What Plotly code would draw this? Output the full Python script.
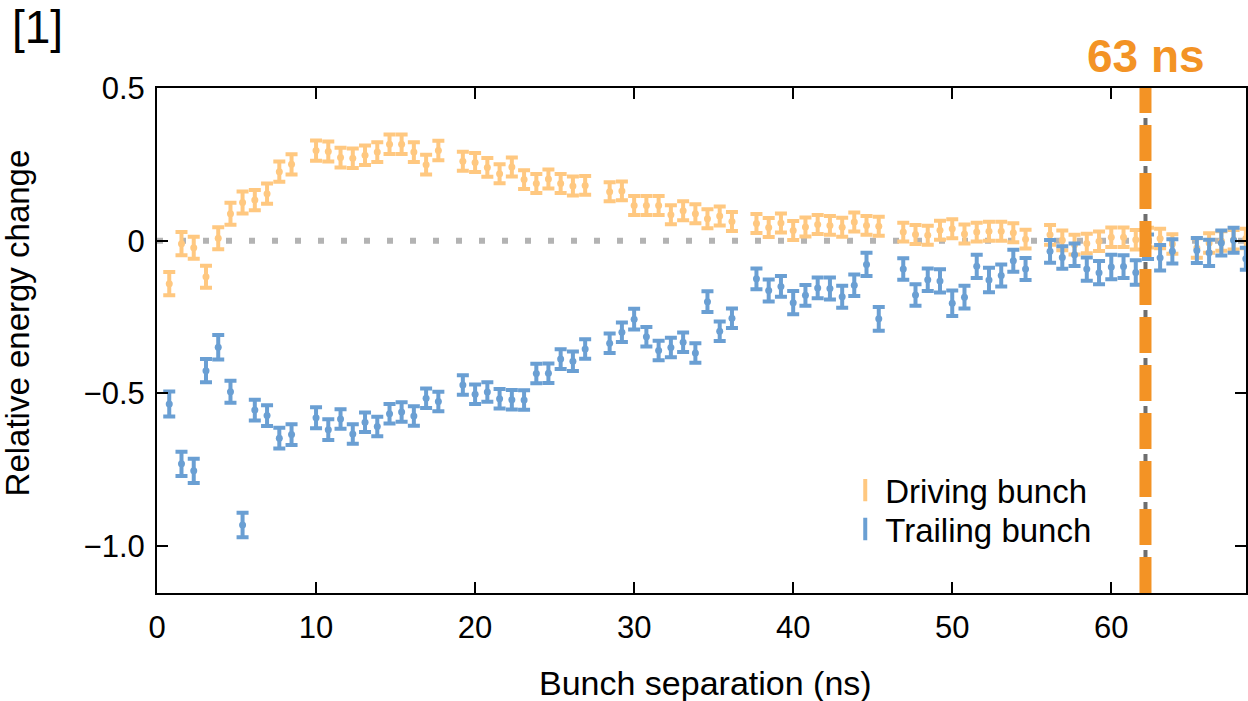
import plotly.graph_objects as go

# Bunch separation (ns) of each measured pair
separation_ns = [
    0.77, 1.54, 2.31, 3.08, 3.85, 4.62, 5.38, 6.15, 6.92, 7.69, 8.46,
    10.00, 10.77, 11.54, 12.31, 13.08, 13.85, 14.62, 15.38, 16.15, 16.92, 17.69,
    19.23, 20.00, 20.77, 21.54, 22.31, 23.08, 23.85, 24.61, 25.38, 26.15, 26.92,
    28.46, 29.23, 30.00, 30.77, 31.54, 32.31, 33.08, 33.85, 34.61, 35.38, 36.15,
    37.69, 38.46, 39.23, 40.00, 40.77, 41.54, 42.31, 43.08, 43.84, 44.61, 45.38,
    46.92, 47.69, 48.46, 49.23, 50.00, 50.77, 51.54, 52.31, 53.08, 53.84, 54.61,
    56.15, 56.92, 57.69, 58.46, 59.23, 60.00, 60.77, 61.54, 62.31, 63.07, 63.84,
    65.38, 66.15, 66.92, 67.69, 68.46,
]

# Relative energy change of the driving bunch
driving = [
    -0.141, -0.010, -0.023, -0.118, 0.008, 0.088, 0.125, 0.133, 0.154, 0.226, 0.250,
    0.295, 0.292, 0.272, 0.270, 0.280, 0.290, 0.316, 0.316, 0.290, 0.249, 0.295,
    0.260, 0.256, 0.240, 0.219, 0.241, 0.200, 0.187, 0.202, 0.187, 0.179, 0.181,
    0.160, 0.163, 0.115, 0.115, 0.115, 0.085, 0.098, 0.088, 0.072, 0.081, 0.063,
    0.056, 0.043, 0.058, 0.033, 0.045, 0.053, 0.050, 0.044, 0.061, 0.050, 0.047,
    0.028, 0.020, 0.018, 0.034, 0.039, 0.022, 0.028, 0.031, 0.031, 0.026, 0.005,
    0.019, 0.001, -0.013, -0.009, -0.002, 0.011, 0.011, 0.003, 0.010, 0.007, -0.011,
    -0.024, -0.008, -0.001, 0.003, 0.007,
]
driving_err = [
    0.038, 0.038, 0.036, 0.036, 0.036, 0.036, 0.036, 0.033, 0.033, 0.033, 0.033,
    0.033, 0.033, 0.032, 0.032, 0.032, 0.032, 0.032, 0.032, 0.032, 0.032, 0.032,
    0.031, 0.031, 0.031, 0.031, 0.031, 0.031, 0.031, 0.031, 0.031, 0.031, 0.031,
    0.031, 0.031, 0.031, 0.031, 0.031, 0.031, 0.031, 0.031, 0.031, 0.031, 0.031,
    0.031, 0.031, 0.031, 0.031, 0.031, 0.031, 0.031, 0.031, 0.031, 0.031, 0.031,
    0.031, 0.031, 0.031, 0.031, 0.031, 0.031, 0.031, 0.031, 0.031, 0.031, 0.031,
    0.032, 0.032, 0.032, 0.032, 0.032, 0.032, 0.032, 0.032, 0.032, 0.032, 0.032,
    0.032, 0.032, 0.032, 0.032, 0.032,
]

# Relative energy change of the trailing bunch
trailing = [
    -0.535, -0.731, -0.754, -0.426, -0.349, -0.495, -0.931, -0.555, -0.573, -0.647, -0.635,
    -0.580, -0.619, -0.584, -0.633, -0.595, -0.609, -0.567, -0.561, -0.574, -0.516, -0.527,
    -0.473, -0.503, -0.496, -0.518, -0.521, -0.522, -0.435, -0.434, -0.388, -0.395, -0.355,
    -0.336, -0.300, -0.257, -0.315, -0.360, -0.350, -0.333, -0.368, -0.200, -0.297, -0.254,
    -0.125, -0.163, -0.150, -0.203, -0.179, -0.155, -0.157, -0.184, -0.146, -0.078, -0.256,
    -0.093, -0.178, -0.128, -0.132, -0.205, -0.185, -0.084, -0.129, -0.114, -0.066, -0.093,
    -0.035, -0.055, -0.046, -0.093, -0.105, -0.086, -0.085, -0.104, -0.020, -0.056, -0.035,
    -0.032, -0.040, -0.008, 0.001, -0.059,
]
trailing_err = [
    0.041, 0.040, 0.040, 0.038, 0.040, 0.036, 0.040, 0.034, 0.034, 0.034, 0.034,
    0.034, 0.034, 0.032, 0.032, 0.032, 0.032, 0.032, 0.032, 0.032, 0.032, 0.032,
    0.032, 0.032, 0.032, 0.032, 0.032, 0.032, 0.032, 0.032, 0.032, 0.032, 0.032,
    0.032, 0.032, 0.034, 0.032, 0.032, 0.032, 0.032, 0.032, 0.034, 0.032, 0.032,
    0.034, 0.036, 0.034, 0.038, 0.034, 0.034, 0.036, 0.036, 0.035, 0.038, 0.039,
    0.035, 0.035, 0.037, 0.038, 0.042, 0.037, 0.038, 0.040, 0.036, 0.036, 0.036,
    0.037, 0.037, 0.037, 0.038, 0.038, 0.040, 0.037, 0.040, 0.040, 0.042, 0.040,
    0.041, 0.043, 0.041, 0.041, 0.036,
]

x_ticks = [0, 10, 20, 30, 40, 50, 60]
y_ticks = [0.5, 0.0, -0.5, -1.0]
y_tick_text = ["0.5", "0", "\u22120.5", "\u22121.0"]

marker_line_ns = 62.15
X_RANGE = [0, 68.47]
Y_RANGE = [-1.154, 0.5]

ORANGE = "#FFC880"
BLUE = "#6A9FD3"
ACCENT = "#F39325"
FONT = "Liberation Sans, Arial, Helvetica, sans-serif"

fig = go.Figure()

series = [
    ("Driving bunch", driving, driving_err, ORANGE, "legend"),
    ("Trailing bunch", trailing, trailing_err, BLUE, "legend2"),
]
for name, values, errs, color, legend_id in series:
    fig.add_trace(go.Scatter(
        x=separation_ns, y=values, mode="markers", showlegend=False,
        marker=dict(color=color, size=7, symbol="circle"),
        error_y=dict(type="data", array=errs, visible=True,
                     color=color, thickness=4, width=6),
        hoverinfo="x+y",
    ))
    # legend entry drawn as a vertical bar
    fig.add_trace(go.Scatter(
        x=[None], y=[None], mode="markers", name=name, legend=legend_id,
        marker=dict(symbol="line-ns", size=26, color=color,
                    line=dict(color=color, width=4)),
    ))

# dotted zero reference line
fig.add_shape(type="line", xref="x", yref="y", x0=X_RANGE[0], x1=X_RANGE[1],
              y0=0, y1=0, layer="below",
              line=dict(color="#B3B3B3", width=6, dash="6px,17px"))
# grey dash-dot guide beneath the highlighted separation
fig.add_shape(type="line", xref="x", yref="paper", x0=marker_line_ns, x1=marker_line_ns,
              y0=0, y1=1, line=dict(color="#6E6E6E", width=4, dash="7px,5px"))
fig.add_shape(type="line", xref="x", yref="paper", x0=marker_line_ns, x1=marker_line_ns,
              y0=0, y1=1, line=dict(color=ACCENT, width=12, dash="36px,12px"))

axis_common = dict(
    showline=True, linecolor="black", linewidth=2, mirror="allticks",
    ticks="inside", ticklen=11, tickwidth=2, tickcolor="black",
    showgrid=False, zeroline=False,
    tickfont=dict(family=FONT, size=31, color="black"),
)

fig.update_xaxes(range=X_RANGE, tickvals=x_ticks, ticklabelstandoff=6, **axis_common)
fig.update_yaxes(range=Y_RANGE, tickvals=y_ticks, ticktext=y_tick_text,
                 ticklabelstandoff=4, **axis_common)

fig.add_annotation(text="Bunch separation (ns)", xref="paper", yref="paper",
                   x=0.504, y=-0.178, xanchor="center", yanchor="middle", showarrow=False,
                   font=dict(family=FONT, size=34, color="black"))
fig.add_annotation(text="Relative energy change", xref="paper", yref="paper",
                   x=-0.128, y=0.535, xanchor="center", yanchor="middle", textangle=-90,
                   showarrow=False, font=dict(family=FONT, size=33, color="black"))
fig.add_annotation(text="[1]", xref="paper", yref="paper",
                   x=-0.1347, y=1.121, xanchor="left", yanchor="middle", showarrow=False,
                   font=dict(family=FONT, size=46, color="black"))
fig.add_annotation(text="<b>63 ns</b>", xref="paper", yref="paper",
                   x=0.908, y=1.063, xanchor="center", yanchor="middle", showarrow=False,
                   font=dict(family=FONT, size=46, color=ACCENT))

legend_common = dict(xanchor="left", yanchor="top", bgcolor="rgba(0,0,0,0)",
                     borderwidth=0, itemsizing="trace",
                     font=dict(family=FONT, size=33, color="black"))

fig.update_layout(
    width=1248, height=701,
    margin=dict(l=157, r=0, t=88, b=108),
    plot_bgcolor="white", paper_bgcolor="white",
    legend=dict(x=0.632, y=0.259, **legend_common),
    legend2=dict(x=0.632, y=0.182, **legend_common),
)

fig.write_html("out.html")
